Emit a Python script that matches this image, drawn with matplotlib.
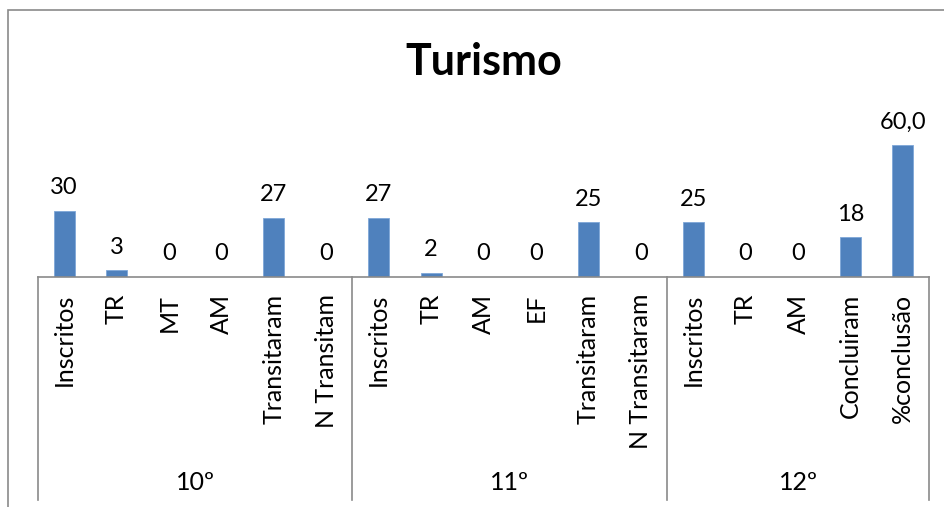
import matplotlib.pyplot as plt
from matplotlib.patches import Rectangle
import matplotlib.transforms as mtransforms

plt.rcParams['font.family'] = ['Lato', 'DejaVu Sans']

# data
groups = ["10º", "11º", "12º"]
categories = [
    ["Inscritos", "TR", "MT", "AM", "Transitaram", "N Transitam"],
    ["Inscritos", "TR", "AM", "EF", "Transitaram", "N Transitaram"],
    ["Inscritos", "TR", "AM", "Concluiram", "%conclusão"],
]
values = [
    [30, 3, 0, 0, 27, 0],
    [27, 2, 0, 0, 25, 0],
    [25, 0, 0, 18, 60.0],
]

labels = [c for g in categories for c in g]
vals = [v for g in values for v in g]
x = list(range(len(vals)))
val_text = [f"{v:.1f}".replace(".", ",") if isinstance(v, float) else str(v) for v in vals]

W, H = 945, 507
fig = plt.figure(figsize=(W / 100, H / 100), dpi=100)

# outer chart border
fig.patches.append(Rectangle((8 / W, -0.05), 1.0, 1 - 10 / H + 0.05, transform=fig.transFigure,
                             fill=False, edgecolor="#8a8a8a", linewidth=1.2))

ax_left, ax_right, ax_base, ax_top = 38, 929, 277, 101
ax = fig.add_axes([ax_left / W, (H - ax_base) / H, (ax_right - ax_left) / W, (ax_base - ax_top) / H])

ax.bar(x, vals, width=0.4, color="#4f81bd", edgecolor="#7ea6d8", linewidth=0.6)
for xi, v, t in zip(x, vals, val_text):
    ax.annotate(t, (xi, v), xytext=(0, 9), textcoords="offset points",
                ha="center", va="bottom", fontsize=17, color="black")

ax.set_xlim(-0.5, len(vals) - 0.5)
ax.set_ylim(0, 80)
ax.set_yticks([])
ax.set_xticks(x)
ax.set_xticklabels(labels, rotation=90, fontsize=18)
ax.tick_params(axis="x", length=0, pad=12)
for s in ["top", "left", "right"]:
    ax.spines[s].set_visible(False)
ax.spines["bottom"].set_color("#8a8a8a")
ax.spines["bottom"].set_linewidth(1.2)

# group separators and group labels
trans = mtransforms.blended_transform_factory(ax.transData, ax.transAxes)
depth = -(500 - ax_base) / (ax_base - ax_top)
start = 0
bounds = [-0.5]
for g, cats in zip(groups, categories):
    end = start + len(cats)
    bounds.append(end - 0.5)
    ax.text((start + end - 1) / 2, -(483 - ax_base) / (ax_base - ax_top), g,
            transform=trans, ha="center", va="center", fontsize=18)
    start = end
for b in bounds:
    ax.plot([b, b], [0, depth], transform=trans, color="#8a8a8a", linewidth=1.2, clip_on=False)

fig.text(0.5 * (ax_left + ax_right) / W, 1 - 62 / H, "Turismo", ha="center", va="center",
         fontsize=31, fontweight="bold")

fig.savefig("out.png", dpi=100)
